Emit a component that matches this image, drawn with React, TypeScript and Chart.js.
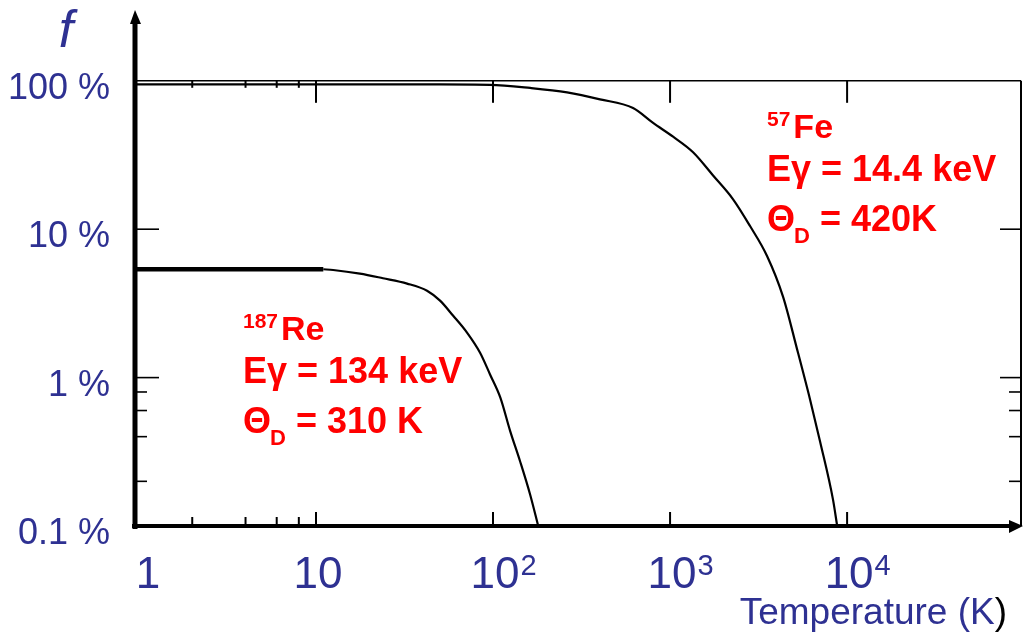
import React, { useEffect, useRef } from "react";
import { Chart, registerables } from "chart.js";

Chart.register(...registerables);

// ---- data (temperature in K, recoil-free fraction f in %) ----
const feTemps = [0.95, 10, 50, 96, 162, 262, 402, 618, 802, 1040, 1349, 1750, 2270, 2830, 3530, 4350, 5220, 6180, 7040, 8330, 8790];
const feFractions = [94.5, 94.5, 94.5, 94, 89.5, 83.5, 75, 65.5, 52, 42, 33, 23, 15.9, 10.5, 6.6, 3.5, 1.55, 0.71, 0.37, 0.15, 0.1];

const rePlateauTemps = [0.95, 11];
const rePlateauFractions = [5.37, 5.37];
const reTemps = [11, 12.5, 17.7, 23.9, 32.7, 42.4, 50.2, 59.4, 71.3, 84.5, 96.2, 110, 125, 142, 162, 180];
const reFractions = [5.37, 5.31, 5.02, 4.67, 4.3, 3.85, 3.3, 2.62, 2.01, 1.47, 1.05, 0.733, 0.436, 0.274, 0.163, 0.1];

const xTickValues = [1, 10, 100, 1000, 10000];
const xTickLabels = ["1", "10", "10²", "10³", "10⁴"];
const xMinorTicks = [2, 4, 6, 8];
const yTickValues = [100, 10, 1, 0.1];
const yTickLabels = ["100 %", "10 %", "1 %", "0.1 %"];
const yMajorTicks = [10, 1];
const yMinorTicks = [0.8, 0.6, 0.4, 0.2];

const xRange = [0.95, 96000];
const yRange = [0.1, 300];

const FONT = '"Liberation Sans", Arial, Helvetica, sans-serif';
const BLUE = "#2e3192";
const RED = "#ff0000";
const SUP: Record<string, string> = { "⁰": "0", "¹": "1", "²": "2", "³": "3", "⁴": "4", "⁵": "5", "⁶": "6", "⁷": "7", "⁸": "8", "⁹": "9" };

const toPoints = (xs: number[], ys: number[]) => xs.map((x, i) => ({ x, y: ys[i] }));

const overlayPlugin = {
  id: "overlay",
  afterDraw(chart: any) {
    const ctx: CanvasRenderingContext2D = chart.ctx;
    const xs = chart.scales.x;
    const ys = chart.scales.y;
    const L = xs.left;
    const R = xs.right;
    const T = ys.top;
    const B = ys.bottom;
    const y100 = ys.getPixelForValue(100);

    const line = (x1: number, y1: number, x2: number, y2: number) => {
      ctx.beginPath();
      ctx.moveTo(x1, y1);
      ctx.lineTo(x2, y2);
      ctx.stroke();
    };

    ctx.save();
    ctx.strokeStyle = "#000";
    ctx.fillStyle = "#000";
    ctx.lineCap = "butt";

    // top frame (100 % line) and right frame
    ctx.lineWidth = 1.6;
    line(L, y100, R, y100);
    ctx.lineWidth = 2;
    line(R, y100, R, B);

    // x ticks
    ctx.lineWidth = 2;
    xTickValues.slice(1).forEach((v) => {
      const px = xs.getPixelForValue(v);
      line(px, B, px, B - 14);
      line(px, y100, px, y100 + 22);
    });
    xMinorTicks.forEach((v) => {
      const px = xs.getPixelForValue(v);
      line(px, B, px, B - 9);
      line(px, y100, px, y100 + 7);
    });

    // y ticks
    ctx.lineWidth = 1.6;
    yMajorTicks.forEach((v) => {
      const py = ys.getPixelForValue(v);
      line(L, py, L + 24, py);
      line(R, py, R - 21, py);
    });
    yMinorTicks.forEach((v) => {
      const py = ys.getPixelForValue(v);
      line(L, py, L + 12, py);
      line(R, py, R - 12, py);
    });

    // left axis with arrow
    ctx.lineWidth = 5;
    line(L, B + 3, L, T + 12);
    ctx.beginPath();
    ctx.moveTo(L, T);
    ctx.lineTo(L + 6, T + 14);
    ctx.lineTo(L - 5, T + 14);
    ctx.closePath();
    ctx.fill();

    // x axis with arrow
    ctx.lineWidth = 4;
    line(L - 3, B, R - 8, B);
    ctx.beginPath();
    ctx.moveTo(R + 2, B);
    ctx.lineTo(R - 12, B - 6);
    ctx.lineTo(R - 12, B + 7);
    ctx.closePath();
    ctx.fill();

    // y tick labels
    ctx.fillStyle = BLUE;
    ctx.font = `36px ${FONT}`;
    ctx.textAlign = "right";
    ctx.textBaseline = "alphabetic";
    yTickValues.forEach((v, i) => {
      const py = ys.getPixelForValue(v);
      ctx.fillText(yTickLabels[i], 110, py + 18);
    });

    // x tick labels (base + raised exponent)
    ctx.textAlign = "left";
    xTickValues.forEach((v, i) => {
      const px = xs.getPixelForValue(v);
      const label = xTickLabels[i];
      let base = "";
      let exp = "";
      for (const ch of label) {
        if (SUP[ch] !== undefined) exp += SUP[ch];
        else base += ch;
      }
      ctx.font = `44px ${FONT}`;
      const bw = ctx.measureText(base).width;
      const x0 = base === "1" && !exp ? px + 9 - bw / 2 : px - bw / 2 + 2;
      ctx.fillText(base, x0, 588);
      if (exp) {
        ctx.font = `29px ${FONT}`;
        ctx.fillText(exp, x0 + bw + 1, 575);
      }
    });

    // axis titles
    ctx.font = `37px ${FONT}`;
    ctx.textAlign = "left";
    const tTxt = "Temperature (K";
    const tW = ctx.measureText(tTxt).width;
    const pW = ctx.measureText(")").width;
    const tx = 1007 - tW - pW;
    ctx.fillText(tTxt, tx, 624);
    ctx.fillStyle = "#000";
    ctx.fillText(")", tx + tW, 624);

    ctx.fillStyle = BLUE;
    ctx.font = `italic 52px ${FONT}`;
    ctx.textAlign = "center";
    ctx.fillText("f", 66, 47);

    // annotations
    const drawBlock = (x: number, y0: number, iso: string, el: string, egamma: string, theta: string) => {
      ctx.fillStyle = RED;
      ctx.textAlign = "left";
      ctx.font = `bold 21px ${FONT}`;
      ctx.fillText(iso, x, y0 - 12);
      const isoW = ctx.measureText(iso).width;
      ctx.font = `bold 34px ${FONT}`;
      ctx.fillText(el, x + isoW + 3, y0);
      ctx.font = `bold 36px ${FONT}`;
      ctx.fillText(egamma, x, y0 + 43);
      ctx.fillText("Θ", x, y0 + 93);
      const thW = ctx.measureText("Θ").width;
      ctx.font = `bold 22px ${FONT}`;
      ctx.fillText("D", x + thW - 1, y0 + 105);
      const dW = ctx.measureText("D").width;
      ctx.font = `bold 36px ${FONT}`;
      ctx.fillText(theta, x + thW - 1 + dW, y0 + 93);
    };
    drawBlock(243, 340, "187", "Re", "Eγ = 134 keV", " = 310 K");
    drawBlock(767, 138, "57", "Fe", "Eγ = 14.4 keV", " = 420K");

    ctx.restore();
  },
};

export default function App() {
  const canvasRef = useRef<HTMLCanvasElement | null>(null);

  useEffect(() => {
    if (!canvasRef.current) return;
    const chart = new Chart(canvasRef.current, {
      type: "line",
      data: {
        datasets: [
          {
            label: "57Fe",
            data: toPoints(feTemps, feFractions),
            borderColor: "#000",
            borderWidth: 2.2,
            pointRadius: 0,
            fill: false,
            cubicInterpolationMode: "monotone",
          },
          {
            label: "187Re plateau",
            data: toPoints(rePlateauTemps, rePlateauFractions),
            borderColor: "#000",
            borderWidth: 4.5,
            pointRadius: 0,
            fill: false,
          },
          {
            label: "187Re",
            data: toPoints(reTemps, reFractions),
            borderColor: "#000",
            borderWidth: 2.2,
            pointRadius: 0,
            fill: false,
            cubicInterpolationMode: "monotone",
          },
        ],
      },
      options: {
        animation: false,
        responsive: false,
        maintainAspectRatio: false,
        layout: { padding: { left: 135, right: 3, top: 10, bottom: 106 } },
        plugins: { legend: { display: false }, tooltip: { enabled: false } },
        scales: {
          x: { type: "logarithmic", min: xRange[0], max: xRange[1], display: false },
          y: { type: "logarithmic", min: yRange[0], max: yRange[1], display: false },
        },
      },
      plugins: [overlayPlugin],
    });
    return () => chart.destroy();
  }, []);

  return (
    <div style={{ position: "absolute", left: 0, top: 0, width: 1024, height: 632, background: "#fff" }}>
      <canvas ref={canvasRef} width={1024} height={632} style={{ display: "block" }} />
    </div>
  );
}
